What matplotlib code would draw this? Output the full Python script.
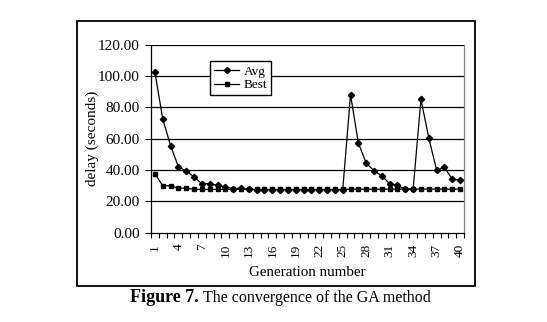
import matplotlib
matplotlib.use("Agg")
import matplotlib.pyplot as plt
from matplotlib.patches import Rectangle

plt.rcParams["font.family"] = ["Liberation Serif", "DejaVu Serif"]

generations = list(range(1, 41))
avg = [102.5, 72.5, 55.5, 42.0, 39.3, 35.6, 31.2, 31.2, 30.3, 29.2,
       28.0, 28.5, 27.6, 27.4, 27.3, 27.3, 27.3, 27.3, 27.3, 27.3,
       27.3, 27.3, 27.3, 27.3, 27.3, 88.0, 57.2, 44.4, 39.5, 36.3,
       31.2, 30.1, 27.8, 27.8, 85.0, 60.4, 39.9, 41.6, 34.2, 33.5]
best = [37.6, 29.9, 29.9, 28.4, 28.4, 27.6, 27.6, 27.6, 27.6, 27.6,
        27.6, 27.6, 27.6, 27.6, 27.6, 27.6, 27.6, 27.6, 27.6, 27.6,
        27.6, 27.6, 27.6, 27.6, 27.6, 27.8, 27.8, 27.8, 27.8, 27.8,
        27.8, 27.8, 27.8, 27.8, 27.8, 27.8, 27.8, 27.8, 27.8, 27.8]
yticks = [0, 20, 40, 60, 80, 100, 120]

fig = plt.figure(figsize=(5.47, 3.22), dpi=100)
ax = fig.add_axes([151 / 547, 1 - 232.7 / 322, 313 / 547, 188.2 / 322])

# outer frame round the whole chart
fig.patches.append(Rectangle((76.5 / 547, 1 - 285.5 / 322), 398 / 547, 264.5 / 322,
                             transform=fig.transFigure, fill=False,
                             edgecolor="black", linewidth=1.3))

for y in yticks[1:]:
    ax.axhline(y, color="black", linewidth=0.9, zorder=1)

ax.plot(generations, avg, color="black", linewidth=0.9, marker="D",
        markersize=3.2, label="Avg", zorder=3)
ax.plot(generations, best, color="black", linewidth=0.9, marker="s",
        markersize=3.0, label="Best", zorder=3)

ax.set_xlim(0.5, 40.5)
ax.set_ylim(0, 120)
ax.set_yticks(yticks)
ax.set_yticklabels([f"{v:.2f}" for v in yticks], fontsize=11)
ax.set_xticks(generations[::3])
ax.set_xticklabels([str(g) for g in generations[::3]], rotation=90, fontsize=9.5)
ax.set_xticks([g + 0.5 for g in range(0, 41)], minor=True)
ax.tick_params(axis="x", which="major", length=0, pad=8)
ax.tick_params(axis="x", which="minor", length=3.5, direction="out", width=0.8)
ax.tick_params(axis="y", length=4, direction="out", width=0.8, pad=4)

for side in ["left", "bottom"]:
    ax.spines[side].set_linewidth(0.9)
ax.spines["top"].set_visible(False)
ax.spines["right"].set_color("#808080")
ax.spines["right"].set_linewidth(0.9)

ax.set_xlabel("Generation number", fontsize=10.8)
ax.xaxis.set_label_coords(0.5, -(272 - 232.7) / 188.2)
ax.xaxis.label.set_va("center")
ax.set_ylabel("delay (seconds)", fontsize=11)
ax.yaxis.set_label_coords(-(151 - 92) / 313, 0.5)
ax.yaxis.label.set_va("center")

leg = ax.legend(loc="upper left", bbox_to_anchor=(0.19, 0.91), fontsize=9.5,
                frameon=True, fancybox=False, edgecolor="black", framealpha=1,
                handlelength=1.9, handletextpad=0.3, borderpad=0.3,
                labelspacing=0.1, borderaxespad=0)
leg.get_frame().set_linewidth(1.0)

fig.text(199 / 547, 1 - 298 / 322, "Figure 7.", fontsize=13, fontweight="bold",
         ha="right", va="center")
fig.text(203 / 547, 1 - 298 / 322, "The convergence of the GA method",
         fontsize=11.5, ha="left", va="center")

fig.savefig("out.png", dpi=100)
